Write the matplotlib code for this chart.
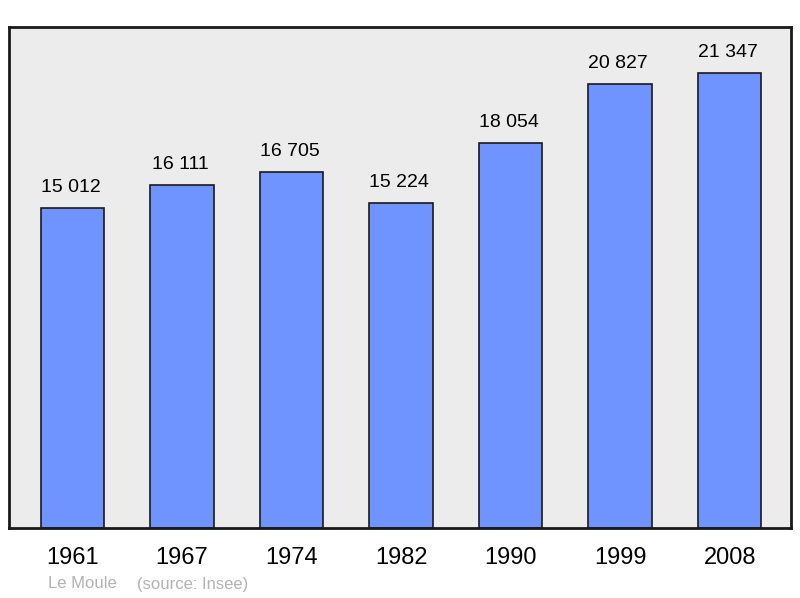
import matplotlib.pyplot as plt

years = ['1961', '1967', '1974', '1982', '1990', '1999', '2008']
population = [15012, 16111, 16705, 15224, 18054, 20827, 21347]
labels = ['15 012', '16 111', '16 705', '15 224', '18 054', '20 827', '21 347']

plt.rcParams['font.family'] = ['Liberation Sans', 'DejaVu Sans']

fig = plt.figure(figsize=(8, 5.98), dpi=100)
ax = fig.add_axes([9 / 800, 70 / 598, 782 / 800, 501 / 598])
ax.set_facecolor('#ececec')

x = list(range(len(years)))
ax.bar(x, population, width=0.58, color='#7094ff', edgecolor='#1a1a1a',
       linewidth=1.2, zorder=2)

for xi, val, lab in zip(x, population, labels):
    ax.annotate(lab, (xi, val), xytext=(-2, 12), textcoords='offset pixels',
                ha='center', va='bottom', fontsize=14, color='#000000')

ax.set_xlim(-0.58, 6.56)
ax.set_ylim(0, 23500)
ax.set_xticks(x)
ax.set_xticklabels(years, fontsize=17)
ax.tick_params(axis='x', length=0, pad=14)
ax.set_yticks([])
for s in ax.spines.values():
    s.set_linewidth(2)
    s.set_color('#1a1a1a')

fig.text(48 / 800, 1 - 584 / 598, 'Le Moule', fontsize=12, color='#b3b3b3', va='center')
fig.text(137 / 800, 1 - 584 / 598, '(source: Insee)', fontsize=12, color='#b3b3b3', va='center')

fig.savefig('out.png', dpi=100)
